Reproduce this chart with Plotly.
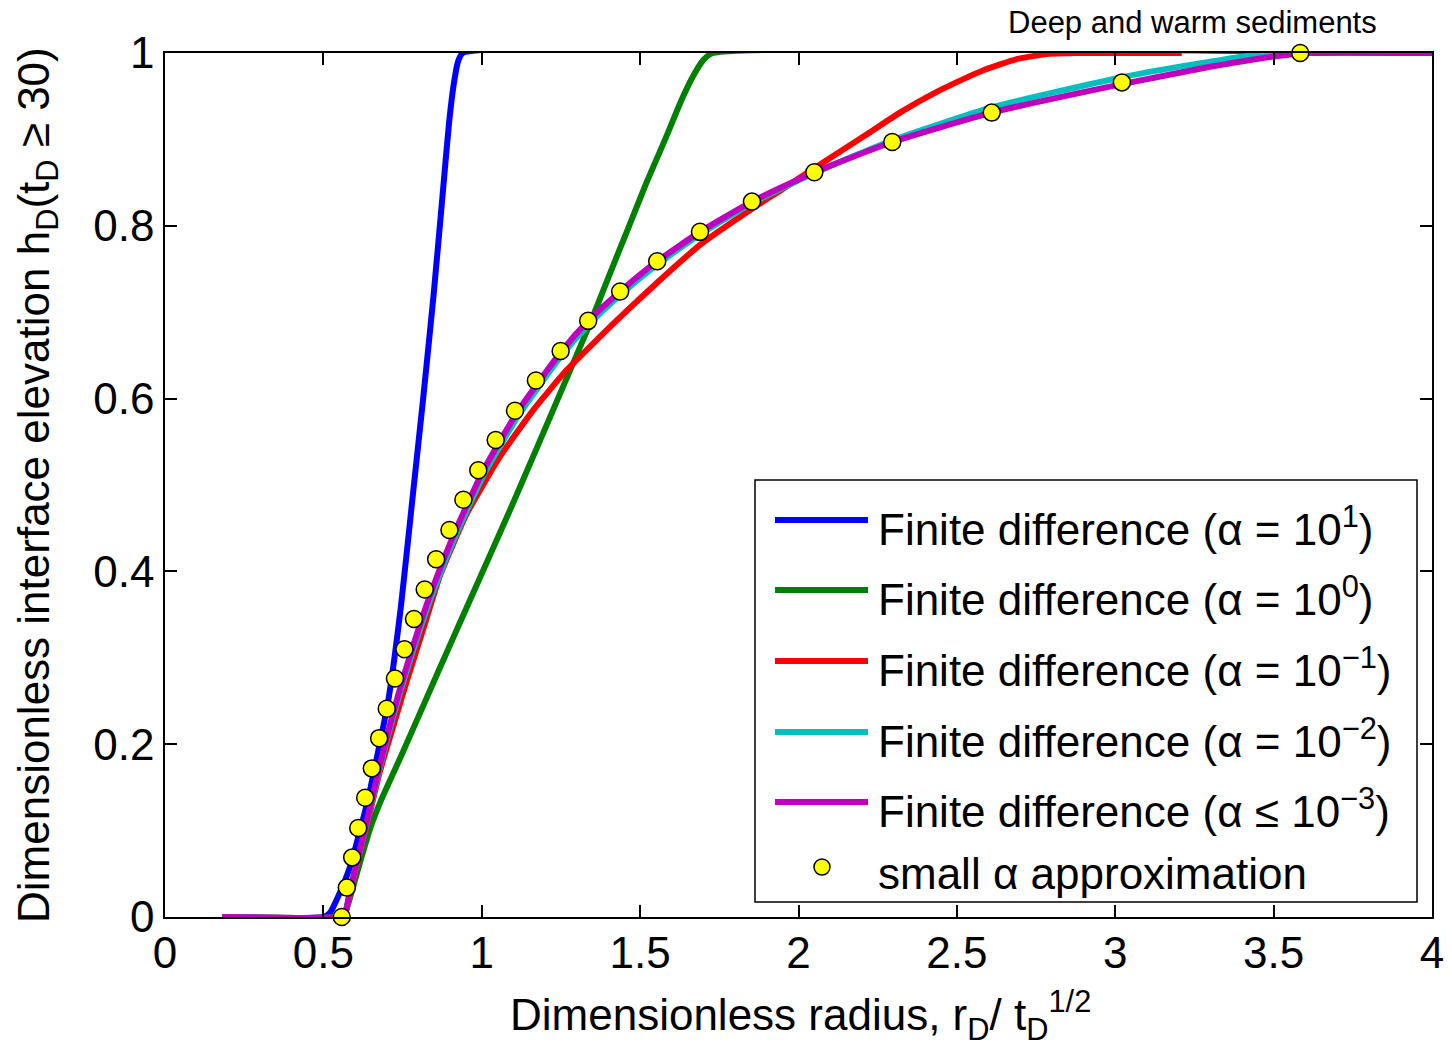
import plotly.graph_objects as go

# ── data (r_D / t_D^0.5  vs  h_D) ────────────────────────────────────────────
blue_x = [0.18, 0.50, 0.521, 0.542, 0.584, 0.640, 0.705, 0.745, 0.780, 0.815,
          0.848, 0.875, 0.897, 0.912, 0.925, 0.940, 4.0]
blue_y = [0.0, 0.0, 0.005, 0.020, 0.058, 0.135, 0.251, 0.360, 0.480, 0.600,
          0.720, 0.830, 0.920, 0.965, 0.990, 1.0, 1.0]

green_x = [0.18, 0.55, 0.568, 0.590, 0.621, 0.650, 0.682, 0.750, 0.823, 0.900,
           0.963, 1.100, 1.250, 1.342, 1.405, 1.460, 1.520, 1.579, 1.630, 1.670,
           1.700, 1.730, 4.0]
green_y = [0.0, 0.0, 0.004, 0.030, 0.070, 0.105, 0.135, 0.190, 0.251, 0.315,
           0.367, 0.480, 0.608, 0.687, 0.745, 0.795, 0.850, 0.900, 0.945, 0.975,
           0.992, 1.0, 1.0]

red_x = [0.18, 0.55, 0.568, 0.586, 0.632, 0.676, 0.724, 0.765, 0.821, 0.868,
         0.953, 1.058, 1.163, 1.268, 1.363, 1.450, 1.550, 1.689, 1.850, 1.952,
         2.047, 2.216, 2.320, 2.426, 2.510, 2.584, 2.689, 2.790, 2.880, 3.21]
red_y = [0.0, 0.0, 0.004, 0.030, 0.098, 0.165, 0.225, 0.275, 0.340, 0.395,
         0.467, 0.533, 0.587, 0.633, 0.668, 0.699, 0.733, 0.778, 0.819, 0.843,
         0.866, 0.906, 0.931, 0.953, 0.968, 0.980, 0.993, 0.999, 1.0, 1.0]

cyan_x = [0.18, 0.55, 0.568, 0.586, 0.632, 0.676, 0.724, 0.780, 0.843, 0.918,
          1.005, 1.115, 1.252, 1.336, 1.437, 1.554, 1.689, 1.853, 2.050, 2.296,
          2.610, 3.021, 3.300, 3.450, 3.530, 4.0]
cyan_y = [0.0, 0.0, 0.004, 0.033, 0.101, 0.169, 0.237, 0.305, 0.373, 0.442,
          0.511, 0.580, 0.650, 0.685, 0.720, 0.755, 0.790, 0.826, 0.861, 0.899,
          0.937, 0.972, 0.990, 0.998, 1.0, 1.0]

magenta_x = [0.18, 0.55, 0.568, 0.586, 0.632, 0.676, 0.724, 0.780, 0.843, 0.918,
             1.005, 1.115, 1.252, 1.336, 1.437, 1.554, 1.689, 1.853, 2.050, 2.296,
             2.610, 3.021, 3.300, 3.500, 3.610, 4.0]
magenta_y = [0.0, 0.0, 0.004, 0.034, 0.103, 0.172, 0.241, 0.310, 0.379, 0.448,
             0.517, 0.586, 0.655, 0.690, 0.724, 0.759, 0.793, 0.828, 0.862, 0.897,
             0.931, 0.964, 0.984, 0.996, 1.0, 1.0]

approx_x = [0.558, 0.574, 0.591, 0.610, 0.632, 0.653, 0.676, 0.700, 0.726, 0.756,
            0.786, 0.820, 0.856, 0.898, 0.942, 0.989, 1.044, 1.105, 1.171, 1.249,
            1.336, 1.437, 1.554, 1.689, 1.853, 2.050, 2.296, 2.610, 3.021, 3.584]
approx_y = [0.0, 0.034, 0.069, 0.103, 0.138, 0.172, 0.207, 0.241, 0.276, 0.310,
            0.345, 0.379, 0.414, 0.448, 0.483, 0.517, 0.552, 0.586, 0.621, 0.655,
            0.690, 0.724, 0.759, 0.793, 0.828, 0.862, 0.897, 0.931, 0.966, 1.0]

legend_labels = [
    "Finite difference (α = 10<sup>1</sup>)",
    "Finite difference (α = 10<sup>0</sup>)",
    "Finite difference (α = 10<sup>−1</sup>)",
    "Finite difference (α = 10<sup>−2</sup>)",
    "Finite difference (α ≤ 10<sup>−3</sup>)",
    "small α approximation",
]

COLORS = ["#0000FF", "#008000", "#FF0000", "#00BFBF", "#BF00BF"]
FONT = "Liberation Sans, Arial, sans-serif"

# figure geometry (page pixels; body margin is zeroed in post_script)
W, H = 1452, 1054
X0, X1, Y0, Y1 = 165, 1432, 53, 917          # plot box on the page
L, T = X0, Y0
R, B = W - X1, H - Y1
PW, PH = X1 - X0, Y1 - Y0


def px(x):
    return (x - X0) / PW


def py(y):
    return (Y1 - y) / PH


fig = go.Figure()

series = [(blue_x, blue_y), (green_x, green_y), (red_x, red_y),
          (cyan_x, cyan_y), (magenta_x, magenta_y)]
for (xs, ys), col in zip(series, COLORS):
    fig.add_trace(go.Scatter(
        x=xs, y=ys, mode="lines", showlegend=False,
        line=dict(color=col, width=6, shape="spline", smoothing=0.5),
    ))

fig.add_trace(go.Scatter(
    x=approx_x, y=approx_y, mode="markers", showlegend=False,
    cliponaxis=False,
    marker=dict(color="#FFFF00", size=17, line=dict(color="black", width=1.5)),
))

# ── hand-drawn legend box (long line samples like the original) ──────────────
shapes = [dict(type="rect", xref="paper", yref="paper",
               x0=px(755), x1=px(1417), y0=py(902), y1=py(480),
               fillcolor="white", line=dict(color="black", width=1.5))]
row_y = [520, 590, 661, 732, 802]
for yy, col in zip(row_y, COLORS):
    shapes.append(dict(type="line", xref="paper", yref="paper",
                       x0=px(775), x1=px(868), y0=py(yy), y1=py(yy),
                       line=dict(color=col, width=6)))
shapes.append(dict(type="circle", xref="paper", yref="paper",
                   xsizemode="pixel", ysizemode="pixel",
                   xanchor=px(822), yanchor=py(867),
                   x0=-8, x1=8, y0=-8, y1=8,
                   fillcolor="#FFFF00", line=dict(color="black", width=1.5)))

annotations = []
for yy, text in zip(row_y + [867], legend_labels):
    annotations.append(dict(
        x=px(876), y=py(yy + 6), xref="paper", yref="paper",
        text=text, showarrow=False, xanchor="left", yanchor="middle",
        font=dict(family=FONT, size=44, color="black"),
    ))
annotations.append(dict(
    x=px(1192), y=py(22), xref="paper", yref="paper",
    text="Deep and warm sediments", showarrow=False,
    xanchor="center", yanchor="middle",
    font=dict(family=FONT, size=31, color="black"),
))
# axis titles
annotations.append(dict(
    x=px(800), y=py(1015), xref="paper", yref="paper",
    text="Dimensionless radius, r<sub>D</sub>/ t<sub>D</sub><sup>1/2</sup>",
    showarrow=False, xanchor="center", yanchor="middle",
    font=dict(family=FONT, size=44, color="black"),
))
annotations.append(dict(
    x=px(37), y=py(485), xref="paper", yref="paper", textangle=-90,
    text="Dimensionless interface elevation h<sub>D</sub>(t<sub>D</sub> ≥ 30)",
    showarrow=False, xanchor="center", yanchor="middle",
    font=dict(family=FONT, size=44, color="black"),
))

axis = dict(
    showline=True, linecolor="black", linewidth=1.5, mirror="ticks",
    ticks="inside", ticklen=12, tickwidth=1.5, tickcolor="black",
    showgrid=False, zeroline=False, automargin=False,
    tickfont=dict(family=FONT, size=44, color="black"),
)

fig.update_layout(
    width=W, height=H,
    margin=dict(l=L, r=R, t=T, b=B),
    paper_bgcolor="white", plot_bgcolor="white",
    font=dict(family=FONT, color="black"),
    xaxis=dict(**axis, range=[0, 4], dtick=0.5, ticklabelstandoff=-4),
    yaxis=dict(**axis, range=[0, 1], dtick=0.2, ticklabelstandoff=0),
    shapes=shapes,
    annotations=annotations,
)

fig.write_html("out.html", config={"displayModeBar": False},
               post_script="document.body.style.margin = '0';")
